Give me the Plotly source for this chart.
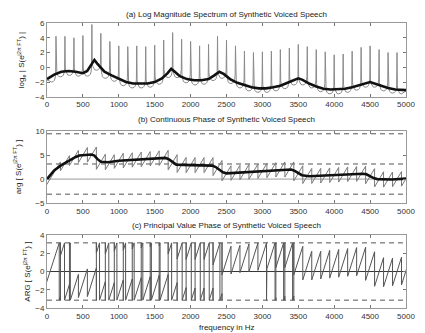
import math
import plotly.graph_objects as go

# ---------------- data ----------------
F0_HZ = 125
HARMONIC_HZ = list(range(125, 5000, 125))          # 125 ... 4875 Hz

# (a) log magnitude at each harmonic peak
PEAK_LOGMAG = [4.2, 4.2, 4.0, 4.3, 5.8, 4.6, 3.5, 2.9, 2.8, 2.9,
               2.8, 3.0, 3.7, 4.7, 3.8, 3.5, 2.9, 3.1, 4.2, 3.7,
               2.9, 2.2, 2.0, 2.1, 2.2, 2.4, 2.6, 3.1, 2.8, 2.4,
               2.1, 1.7, 1.8, 2.2, 2.7, 2.9, 2.4, 2.0, 2.0]
# (a) bottom of the dip between consecutive harmonics (0-125, 125-250, ..., 4875-5000)
VALLEY_LOGMAG = [-2.0, -1.3, -1.1, -1.2, -1.2, -0.4, -1.5, -1.9, -2.5, -2.8,
                 -2.8, -2.7, -2.3, -1.4, -1.4, -2.1, -2.4, -2.3, -1.8, -1.5,
                 -2.2, -2.8, -3.2, -3.4, -3.4, -3.2, -2.9, -2.4, -2.4, -2.8,
                 -3.3, -3.6, -3.6, -3.4, -3.1, -2.7, -2.7, -3.2, -3.5, -3.6]
# (a) smooth spectral envelope
ENV_HZ = [0, 100, 200, 300, 400, 500, 560, 620, 660, 700, 800, 900, 1000, 1100,
          1200, 1300, 1400, 1500, 1600, 1680, 1730, 1780, 1850, 1950, 2050, 2150,
          2250, 2330, 2400, 2460, 2550, 2650, 2750, 2850, 2950, 3050, 3150, 3250,
          3350, 3450, 3500, 3560, 3650, 3750, 3850, 3950, 4050, 4150, 4250, 4350,
          4450, 4500, 4560, 4650, 4750, 4850, 5000]
ENV_LOGMAG = [-1.6, -1.0, -0.6, -0.5, -0.6, -0.8, -0.5, 0.3, 1.0, 0.5, -0.6, -1.1,
              -1.6, -2.0, -2.2, -2.2, -2.2, -2.0, -1.5, -0.8, -0.2, -0.6, -1.2, -1.6,
              -1.75, -1.75, -1.6, -1.1, -0.6, -0.9, -1.6, -2.1, -2.4, -2.7, -2.85,
              -2.85, -2.7, -2.5, -2.1, -1.7, -1.5, -1.7, -2.2, -2.6, -2.9, -3.0, -3.0,
              -2.9, -2.7, -2.4, -2.1, -2.0, -2.2, -2.5, -2.8, -3.0, -3.1]

# (b) smooth continuous phase of the envelope
PHASE_HZ = [0, 50, 100, 200, 300, 400, 450, 550, 620, 660, 700, 750, 850, 1000,
            1200, 1400, 1600, 1650, 1700, 1750, 1800, 2000, 2200, 2300, 2350, 2400,
            2450, 2500, 2700, 3000, 3300, 3400, 3450, 3500, 3550, 3650, 3900, 4200,
            4400, 4450, 4500, 4550, 4600, 4800, 5000]
PHASE_ENV = [0.0, 1.0, 1.8, 2.9, 3.8, 4.6, 4.9, 5.1, 5.1, 4.9, 4.2, 3.6, 3.5, 3.8,
             4.0, 4.2, 4.4, 4.4, 4.1, 3.5, 3.0, 2.9, 2.9, 2.8, 2.5, 1.9, 1.4, 1.2,
             1.4, 1.7, 2.0, 2.0, 1.7, 1.2, 0.8, 0.6, 0.8, 1.0, 1.1, 1.0, 0.6, 0.2,
             0.0, -0.1, 0.1]
# (b) continuous phase at 0, 125, ..., 5000 Hz
PHASE_AT_HARMONIC = [-1.0, 2.0, 3.3, 4.4, 5.0, 5.1, 3.6, 3.5, 3.8, 3.9,
                     4.05, 4.15, 4.3, 4.4, 3.5, 2.95, 2.9, 2.9, 2.9, 2.3,
                     1.2, 1.3, 1.45, 1.55, 1.7, 1.85, 2.0, 2.0, 1.2, 0.65,
                     0.65, 0.75, 0.85, 0.95, 1.05, 1.1, 0.6, -0.05, -0.1, 0.0,
                     0.1]

X_TICKS = list(range(0, 5001, 500))

# ---------------- curve assembly ----------------
# spike/dip outline between two harmonics: (offset Hz, height above valley)
DIP_SHAPE = [(5, 1.1), (12, 0.55), (22, 0.25), (38, 0.07), (62.5, 0.0)]


def log_magnitude_outline():
    xs, ys = [], []
    edges = [0] + HARMONIC_HZ + [5000]
    for i, v in enumerate(VALLEY_LOGMAG):
        left, right = edges[i], edges[i + 1]
        if i == 0:
            xs.append(left); ys.append(v + 0.3)
        else:
            xs.append(left); ys.append(PEAK_LOGMAG[i - 1])
            for d, h in DIP_SHAPE[:-1]:
                xs.append(left + d); ys.append(v + h)
        mid = (left + right) / 2
        xs.append(mid); ys.append(v)
        if i < len(HARMONIC_HZ):
            for d, h in reversed(DIP_SHAPE[:-1]):
                xs.append(right - d); ys.append(v + h)
        else:
            xs.append(right); ys.append(v + 0.4)
    xs.append(HARMONIC_HZ[-1]); ys.append(PEAK_LOGMAG[-1])
    pts = sorted(zip(xs, ys), key=lambda p: p[0])
    # re-insert peak last (sorted keeps order of equal x stable)
    return [p[0] for p in pts], [p[1] for p in pts]


def phase_outline():
    half = math.pi / 2
    xs, ys = [], []
    for k, p in enumerate(PHASE_AT_HARMONIC):
        fc = k * F0_HZ
        xs += [fc - F0_HZ / 2, fc + F0_HZ / 2]
        ys += [p - half, p + half]
    return xs, ys


def principal_value(xs, ys):
    wrap = lambda y: (y + math.pi) % (2 * math.pi) - math.pi
    ox, oy = [xs[0]], [wrap(ys[0])]
    for i in range(len(xs) - 1):
        x0, y0, x1, y1 = xs[i], ys[i], xs[i + 1], ys[i + 1]
        if y1 != y0:
            lo, hi = min(y0, y1), max(y0, y1)
            m0 = math.ceil((lo - math.pi) / (2 * math.pi))
            m1 = math.floor((hi - math.pi) / (2 * math.pi))
            cs = [math.pi + 2 * math.pi * m for m in range(m0, m1 + 1)]
            cs = [c for c in cs if lo < c < hi]
            cs.sort(reverse=(y1 < y0))
            for c in cs:
                xc = x0 + (c - y0) / (y1 - y0) * (x1 - x0)
                if y1 > y0:
                    ox += [xc, xc]; oy += [math.pi, -math.pi]
                else:
                    ox += [xc, xc]; oy += [-math.pi, math.pi]
        ox.append(x1); oy.append(wrap(y1))
    return ox, oy


# ---------------- figure ----------------
FONT = "Liberation Sans, Arial, sans-serif"
fig = go.Figure()

ax_x, ay_y = log_magnitude_outline()
fig.add_trace(go.Scatter(x=ax_x, y=ay_y, mode="lines",
                         line=dict(color="#8a8a8a", width=1), xaxis="x", yaxis="y"))
fig.add_trace(go.Scatter(x=ENV_HZ, y=ENV_LOGMAG, mode="lines",
                         line=dict(color="#111111", width=2.6), xaxis="x", yaxis="y"))

bx, by = phase_outline()
fig.add_trace(go.Scatter(x=bx, y=by, mode="lines",
                         line=dict(color="#7a7a7a", width=1), xaxis="x2", yaxis="y2"))
fig.add_trace(go.Scatter(x=PHASE_HZ, y=PHASE_ENV, mode="lines",
                         line=dict(color="#111111", width=2.6), xaxis="x2", yaxis="y2"))

cx, cy = principal_value(bx, by)
fig.add_trace(go.Scatter(x=cx, y=cy, mode="lines",
                         line=dict(color="#555555", width=1), xaxis="x3", yaxis="y3"))

# reference levels: zero and odd multiples of pi
shapes = []
for yref, xref, level, dash, col in [
        ("y2", "x2", 0, "solid", "#9a9a9a"),
        ("y2", "x2", math.pi, "5px,4px", "#555555"),
        ("y2", "x2", -math.pi, "5px,4px", "#555555"),
        ("y2", "x2", 3 * math.pi, "5px,4px", "#555555"),
        ("y3", "x3", 0, "solid", "#333333"),
        ("y3", "x3", math.pi, "5px,4px", "#555555"),
        ("y3", "x3", -math.pi, "5px,4px", "#555555")]:
    shapes.append(dict(type="line", xref=xref, yref=yref, x0=0, x1=5000,
                       y0=level, y1=level, layer="below",
                       line=dict(color=col, width=1, dash=dash)))

common_x = dict(range=[0, 5000], tickvals=X_TICKS, ticks="inside", ticklen=3,
                tickcolor="#777", showline=True, linecolor="#999", linewidth=1,
                mirror="ticks", showgrid=False, zeroline=False,
                tickfont=dict(family=FONT, size=8, color="#333"))
common_y = dict(ticks="inside", ticklen=3, tickcolor="#777", showline=True,
                linecolor="#999", linewidth=1, mirror="ticks", showgrid=False,
                zeroline=False, tickfont=dict(family=FONT, size=8, color="#333"))

fig.update_layout(
    width=425, height=333,
    margin=dict(l=47, r=10, t=23, b=25),
    paper_bgcolor="white", plot_bgcolor="white",
    showlegend=False,
    shapes=shapes,
    xaxis=dict(common_x, anchor="y"),
    yaxis=dict(common_y, domain=[0.741, 1.0], range=[-4, 6], tickvals=[-4, -2, 0, 2, 4, 6], anchor="x"),
    xaxis2=dict(common_x, anchor="y2"),
    yaxis2=dict(common_y, domain=[0.368, 0.621], range=[-5, 10], tickvals=[-5, 0, 5, 10], anchor="x2"),
    xaxis3=dict(common_x, anchor="y3"),
    yaxis3=dict(common_y, domain=[0.0, 0.256], range=[-4, 4], tickvals=[-4, -2, 0, 2, 4], anchor="x3"),
)

tfont = dict(family=FONT, size=8, color="#222")
notes = [
    ("(a) Log Magnitude Spectrum of Synthetic Voiced Speech", 0.5, 1.031, 0),
    ("(b) Continuous Phase of Synthetic Voiced Speech", 0.5, 0.660, 0),
    ("(c) Principal Value Phase of Synthetic Voiced Speech", 0.5, 0.288, 0),
    ("frequency in Hz", 0.5, -0.067, 0),
    ("log<sub>e</sub> | S(e<sup>j2\u03c0 FT</sup>) |", -0.072, 0.870, -90),
    ("arg [ S(e<sup>j2\u03c0 FT</sup>) ]", -0.083, 0.495, -90),
    ("ARG [ S(e<sup>j2\u03c0 FT</sup>) ]", -0.058, 0.128, -90),
]
for text, x, y, ang in notes:
    fig.add_annotation(text=text, x=x, y=y, xref="paper", yref="paper",
                       showarrow=False, textangle=ang, font=tfont,
                       xanchor="center", yanchor="middle")

fig.write_html("out.html")
